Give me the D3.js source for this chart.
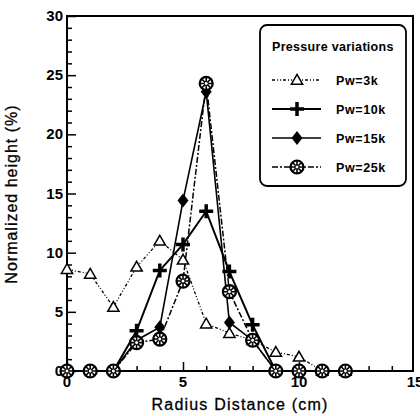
<!DOCTYPE html>
<html lang="en">
<head>
<meta charset="UTF-8">
<title>Normalized height vs radius distance</title>
<style>
  body { margin: 0; background: #fff; }
  svg text { font-family: "Liberation Sans", Arial, sans-serif; fill: #000; }
</style>
</head>
<body>
<div id="chart"></div>
<script src="https://d3js.org/d3.v7.min.js"></script>
<script>
// data
const radius = [0, 1, 2, 3, 4, 5, 6, 7, 8, 9, 10, 11, 12];
const pw3k  = [8.6, 8.2, 5.4, 8.8, 11.0, 9.4, 4.0, 3.2, 2.6, 1.6, 1.2, 0, 0];
const pw10k = [0, 0, 0, 3.4, 8.5, 10.7, 13.5, 8.4, 3.9, 0, 0, 0, 0];
const pw15k = [0, 0, 0, 2.6, 3.7, 14.4, 23.6, 4.1, 2.6, 0, 0, 0, 0];
const pw25k = [0, 0, 0, 2.4, 2.7, 7.6, 24.3, 6.7, 2.6, 0, 0, 0, 0];
const seriesNames = ["Pw=3k", "Pw=10k", "Pw=15k", "Pw=25k"];
const xTicks = [0, 5, 10, 15];
const yTicks = [0, 5, 10, 15, 20, 25, 30];

const width = 420, height = 416;
const margin = { left: 67, right: 8, top: 16, bottom: 45 };

const svg = d3.select("#chart").append("svg")
    .attr("width", width).attr("height", height);

const x = d3.scaleLinear().domain([0, 15]).range([margin.left, width - margin.right + 3]);
const y = d3.scaleLinear().domain([0, 30]).range([height - margin.bottom, margin.top]);

// frame
svg.append("rect")
    .attr("x", x(0)).attr("y", y(30))
    .attr("width", width - margin.right - x(0) + 1).attr("height", y(0) - y(30))
    .attr("fill", "none").attr("stroke", "#000").attr("stroke-width", 2);

// inward ticks, minor every 1
const xAxis = d3.axisBottom(x).tickValues(d3.range(0, 15)).tickSize(-5).tickFormat("");
svg.append("g").attr("transform", `translate(0,${y(0)})`).call(xAxis)
    .call(g => g.select(".domain").remove())
    .call(g => g.selectAll(".tick line")
        .attr("stroke-width", 1.5)
        .attr("y2", d => d % 5 === 0 ? -9 : -5));
const yAxis = d3.axisLeft(y).tickValues(d3.range(0, 31)).tickSize(-5).tickFormat("");
svg.append("g").attr("transform", `translate(${x(0)},0)`).call(yAxis)
    .call(g => g.select(".domain").remove())
    .call(g => g.selectAll(".tick line")
        .attr("stroke-width", 1.5)
        .attr("x2", d => d % 5 === 0 ? 9 : 5));

// tick labels
svg.append("g").selectAll("text").data(xTicks).join("text")
    .attr("x", d => x(d)).attr("y", y(0) + 16)
    .attr("text-anchor", "middle").attr("font-size", 15).attr("font-weight", "bold")
    .text(d => d);
svg.append("g").selectAll("text").data(yTicks).join("text")
    .attr("x", x(0) - 4).attr("y", d => y(d) + 5)
    .attr("text-anchor", "end").attr("font-size", 15).attr("font-weight", "bold")
    .text(d => d);

// axis titles
svg.append("text")
    .attr("x", 240).attr("y", 410)
    .attr("text-anchor", "middle").attr("font-size", 16).attr("letter-spacing", 1.2)
    .attr("stroke", "#000").attr("stroke-width", 0.3)
    .text("Radius Distance (cm)");
svg.append("text")
    .attr("transform", `translate(17,194) rotate(-90)`)
    .attr("text-anchor", "middle").attr("font-size", 16).attr("letter-spacing", 1)
    .attr("stroke", "#000").attr("stroke-width", 0.3)
    .text("Normalized height (%)");

// marker drawing
function drawMarker(g, type) {
    if (type === "tri") {
        g.append("path").attr("d", d3.symbol(d3.symbolTriangle, 55)())
            .attr("transform", "translate(0,1)")
            .attr("fill", "#fff").attr("stroke", "#000").attr("stroke-width", 1.5);
    } else if (type === "plus") {
        g.append("path").attr("d", "M-7,0H7M0,-7V7")
            .attr("stroke", "#000").attr("stroke-width", 3.5);
    } else if (type === "diamond") {
        g.append("path").attr("d", "M0,-7L5.5,0L0,7L-5.5,0Z").attr("fill", "#000");
    } else {
        g.append("circle").attr("r", 6.5).attr("fill", "#fff")
            .attr("stroke", "#000").attr("stroke-width", 2.2);
        g.append("path").attr("d", "M-4.5,-4.5L4.5,4.5M-4.5,4.5L4.5,-4.5M-6,0H6M0,-6V6")
            .attr("stroke", "#000").attr("stroke-width", 1.6);
        g.append("circle").attr("r", 2).attr("fill", "#fff").attr("stroke", "#000").attr("stroke-width", 1);
    }
}

const series = [
    { name: seriesNames[0], values: pw3k,  marker: "tri",     dash: "3,2,1,2,1,2", width: 1.3 },
    { name: seriesNames[1], values: pw10k, marker: "plus",    dash: null,          width: 2 },
    { name: seriesNames[2], values: pw15k, marker: "diamond", dash: null,          width: 1.6 },
    { name: seriesNames[3], values: pw25k, marker: "circle",  dash: "6,2,2,2",     width: 1.5 }
];

const line = d3.line().x(d => x(d[0])).y(d => y(d[1]));

series.forEach(s => {
    const pts = radius.map((r, i) => [r, s.values[i]]);
    svg.append("path").datum(pts)
        .attr("d", line).attr("fill", "none").attr("stroke", "#000")
        .attr("stroke-width", s.width).attr("stroke-dasharray", s.dash);
});
series.forEach(s => {
    const pts = radius.map((r, i) => [r, s.values[i]]);
    svg.append("g").selectAll("g").data(pts).join("g")
        .attr("transform", d => `translate(${x(d[0])},${y(d[1])})`)
        .each(function () { drawMarker(d3.select(this), s.marker); });
});

// legend
const lg = svg.append("g");
lg.append("rect").attr("x", 260).attr("y", 25).attr("width", 146).attr("height", 161)
    .attr("rx", 7).attr("fill", "#fff").attr("stroke", "#000").attr("stroke-width", 1.8);
lg.append("text").attr("x", 272).attr("y", 51).attr("font-size", 12.5)
    .attr("font-weight", "bold").attr("letter-spacing", 0.3).text("Pressure variations");
series.forEach((s, i) => {
    const ly = 80 + i * 29;
    lg.append("line").attr("x1", 272).attr("x2", 321).attr("y1", ly).attr("y2", ly)
        .attr("stroke", "#000").attr("stroke-width", s.width).attr("stroke-dasharray", s.dash);
    drawMarker(lg.append("g").attr("transform", `translate(297,${ly})`), s.marker);
    lg.append("text").attr("x", 336).attr("y", ly + 5).attr("font-size", 12.5)
        .attr("font-weight", "bold").attr("letter-spacing", 0.6).text(s.name);
});
</script>
</body>
</html>
